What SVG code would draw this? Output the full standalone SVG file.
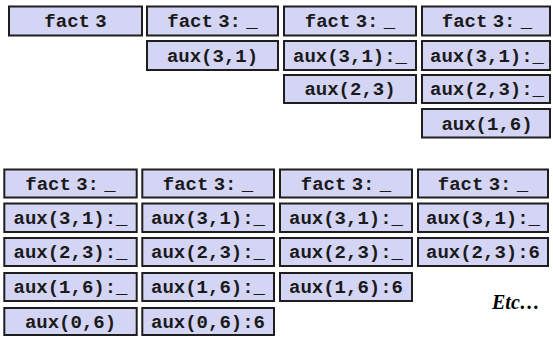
<svg xmlns="http://www.w3.org/2000/svg" width="553" height="337" viewBox="0 0 553 337">
<style>
  rect.b { fill: #d4d4f5; stroke: #1e1e1e; stroke-width: 2; }
  text.t { font-family: "Liberation Mono", "Courier New", monospace; font-weight: bold; font-size: 19px; fill: #1a1a1a; text-anchor: middle; }
  tspan.sp { font-family: "Liberation Sans", Arial, sans-serif; }
  text.etc { font-family: "Liberation Serif", "Times New Roman", serif; font-weight: bold; font-style: italic; font-size: 20px; fill: #000; }
</style>
<rect width="553" height="337" fill="#ffffff"/>
<g id="top">
  <g id="t1">
    <rect class="b" x="9" y="6.5" width="133" height="29"/>
    <text class="t" x="75.5" y="27">fact<tspan class="sp"> </tspan>3</text>
  </g>
  <g id="t2">
    <rect class="b" x="147" y="6.5" width="131" height="29"/>
    <text class="t" x="212.5" y="27">fact<tspan class="sp"> </tspan>3:<tspan class="sp"> </tspan>_</text>
    <rect class="b" x="147" y="41" width="131" height="29"/>
    <text class="t" x="212.5" y="61.5">aux(3,1)</text>
  </g>
  <g id="t3">
    <rect class="b" x="284" y="6.5" width="132" height="29"/>
    <text class="t" x="350" y="27">fact<tspan class="sp"> </tspan>3:<tspan class="sp"> </tspan>_</text>
    <rect class="b" x="284" y="41" width="132" height="29"/>
    <text class="t" x="350" y="61.5">aux(3,1):_</text>
    <rect class="b" x="284" y="75" width="132" height="28"/>
    <text class="t" x="350" y="95">aux(2,3)</text>
  </g>
  <g id="t4">
    <rect class="b" x="422" y="6.5" width="128" height="29"/>
    <text class="t" x="487" y="27">fact<tspan class="sp"> </tspan>3:<tspan class="sp"> </tspan>_</text>
    <rect class="b" x="422" y="41" width="128" height="29"/>
    <text class="t" x="487" y="61.5">aux(3,1):_</text>
    <rect class="b" x="422" y="75" width="128" height="28"/>
    <text class="t" x="487" y="95">aux(2,3):_</text>
    <rect class="b" x="422" y="109" width="128" height="28.5"/>
    <text class="t" x="487" y="129.5">aux(1,6)</text>
  </g>
</g>
<g id="bottom">
  <g id="b1">
    <rect class="b" x="4.3" y="169.5" width="132.4" height="28"/>
    <text class="t" x="70.5" y="189.5">fact<tspan class="sp"> </tspan>3:<tspan class="sp"> </tspan>_</text>
    <rect class="b" x="4.3" y="203.5" width="132.4" height="28.5"/>
    <text class="t" x="70.5" y="223.8">aux(3,1):_</text>
    <rect class="b" x="4.3" y="238" width="132.4" height="28"/>
    <text class="t" x="70.5" y="258">aux(2,3):_</text>
    <rect class="b" x="4.3" y="273" width="132.4" height="28"/>
    <text class="t" x="70.5" y="293">aux(1,6):_</text>
    <rect class="b" x="4.3" y="308" width="132.4" height="27"/>
    <text class="t" x="70.5" y="327.5">aux(0,6)</text>
  </g>
  <g id="b2">
    <rect class="b" x="142.3" y="169.5" width="131.7" height="28"/>
    <text class="t" x="208" y="189.5">fact<tspan class="sp"> </tspan>3:<tspan class="sp"> </tspan>_</text>
    <rect class="b" x="142.3" y="203.5" width="131.7" height="28.5"/>
    <text class="t" x="208" y="223.8">aux(3,1):_</text>
    <rect class="b" x="142.3" y="238" width="131.7" height="28"/>
    <text class="t" x="208" y="258">aux(2,3):_</text>
    <rect class="b" x="142.3" y="273" width="131.7" height="28"/>
    <text class="t" x="208" y="293">aux(1,6):_</text>
    <rect class="b" x="142.3" y="308" width="131.7" height="27"/>
    <text class="t" x="208" y="327.5">aux(0,6):6</text>
  </g>
  <g id="b3">
    <rect class="b" x="280" y="169.5" width="132" height="28"/>
    <text class="t" x="346" y="189.5">fact<tspan class="sp"> </tspan>3:<tspan class="sp"> </tspan>_</text>
    <rect class="b" x="280" y="203.5" width="132" height="28.5"/>
    <text class="t" x="346" y="223.8">aux(3,1):_</text>
    <rect class="b" x="280" y="238" width="132" height="28"/>
    <text class="t" x="346" y="258">aux(2,3):_</text>
    <rect class="b" x="280" y="273" width="132" height="28"/>
    <text class="t" x="346" y="293">aux(1,6):6</text>
  </g>
  <g id="b4">
    <rect class="b" x="418" y="169.5" width="130" height="28"/>
    <text class="t" x="483" y="189.5">fact<tspan class="sp"> </tspan>3:<tspan class="sp"> </tspan>_</text>
    <rect class="b" x="418" y="203.5" width="130" height="28.5"/>
    <text class="t" x="483" y="223.8">aux(3,1):_</text>
    <rect class="b" x="418" y="238" width="130" height="28"/>
    <text class="t" x="483" y="258">aux(2,3):6</text>
  </g>
  <text class="etc" x="492" y="309">Etc…</text>
</g>
<g id="connectors"></g>
</svg>
